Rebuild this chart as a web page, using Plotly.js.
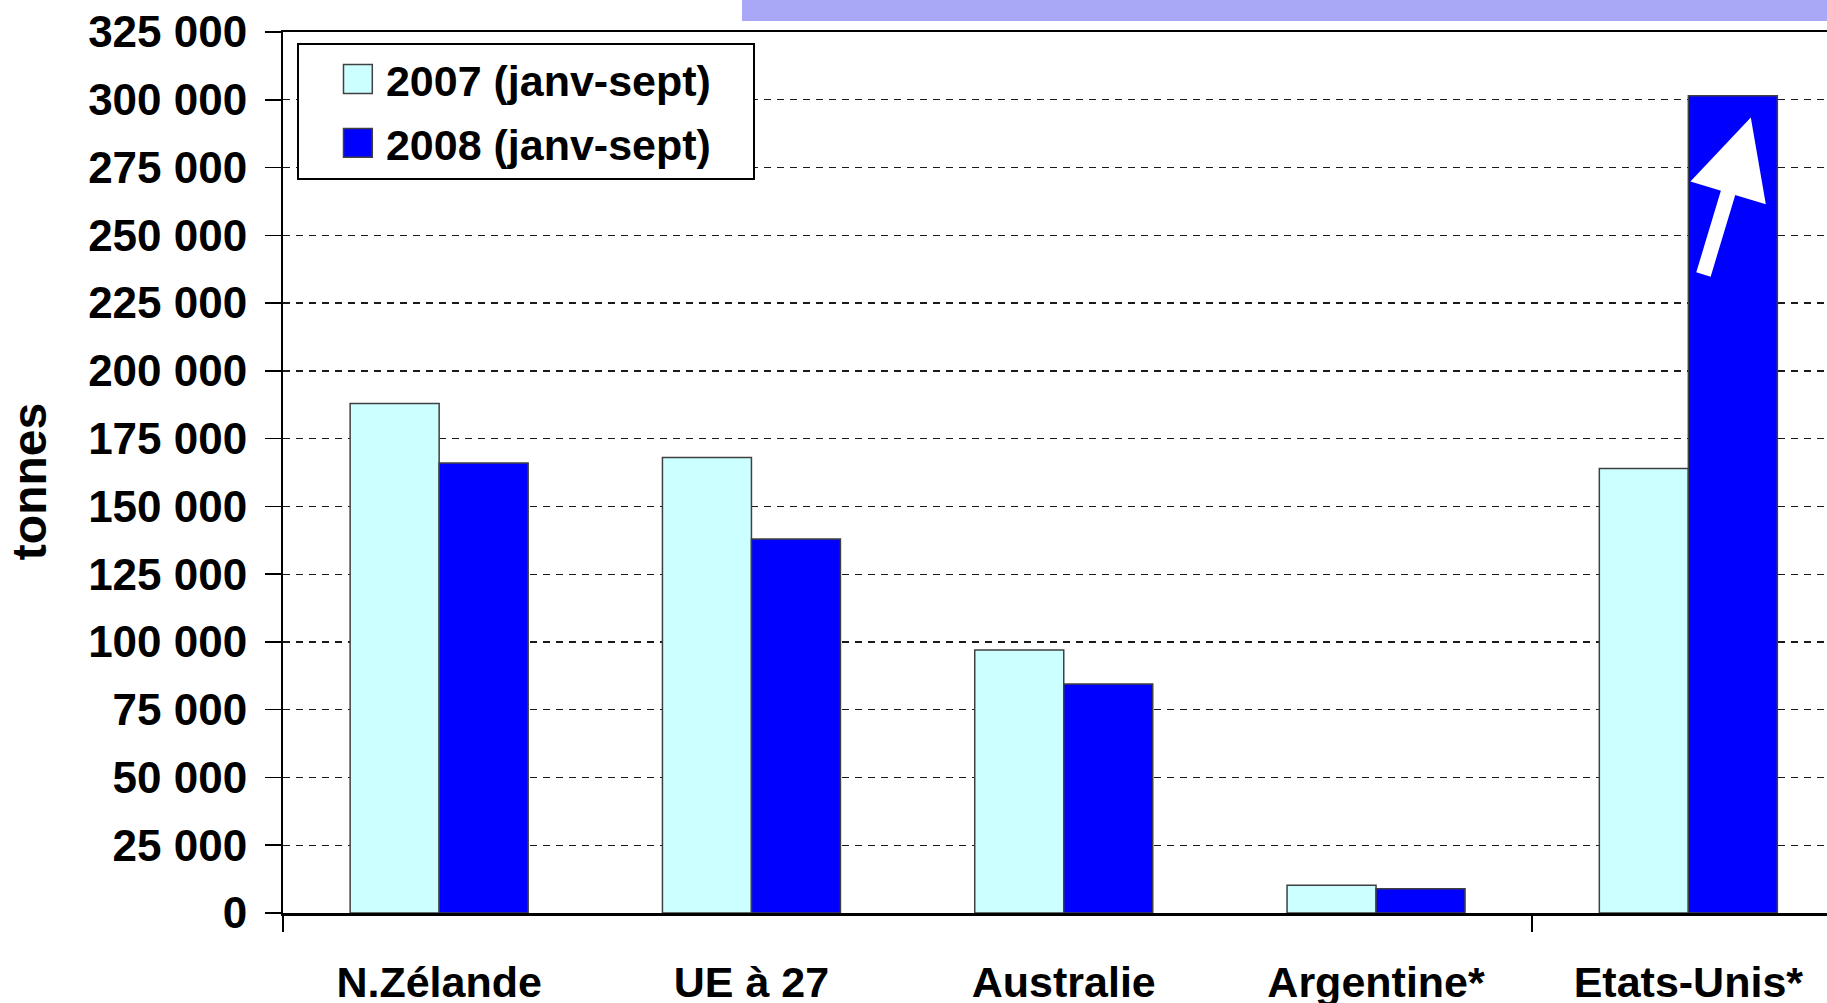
<!DOCTYPE html>
<html>
<head>
<meta charset="utf-8">
<script src="https://cdn.plot.ly/plotly-3.0.1.min.js"></script>
<style>
  html, body { margin: 0; padding: 0; background: #ffffff; }
  #chart { width: 1827px; height: 1003px; }
</style>
</head>
<body>
<div id="chart"></div>
<script>
// ---- data ----
const categories = ['N.Zélande', 'UE à 27', 'Australie', 'Argentine*', 'Etats-Unis*'];
const series2007 = [188000, 168000, 97000, 10200, 164000];
const series2008 = [166000, 138000, 84500, 8900, 301500];
const seriesNames = ['2007 (janv-sept)', '2008 (janv-sept)'];
const yTicks = [0, 25000, 50000, 75000, 100000, 125000, 150000, 175000, 200000, 225000, 250000, 275000, 300000, 325000];
const categoryIndex = categories.map((c, i) => i);

const FONT = { family: 'Liberation Sans, Arial, sans-serif', size: 43, color: '#000000', weight: 700 };
const YFONT = Object.assign({}, FONT, { size: 44 });
const outline = { color: '#404040', width: 1.5 };

const traces = [
  {
    type: 'bar', name: seriesNames[0], x: categoryIndex, y: series2007, legendgroup: 'g2007',
    marker: { color: '#CCFFFF', line: outline }
  },
  {
    type: 'bar', name: seriesNames[1], x: categoryIndex, y: series2008, legendgroup: 'g2008',
    marker: { color: '#0000FF', line: outline }
  }
];

const layout = {
  width: 1827, height: 1003,
  margin: { l: 283, r: 0, t: 32, b: 90, pad: 0 },
  paper_bgcolor: '#ffffff', plot_bgcolor: '#ffffff',
  separators: ', ',
  barmode: 'group', bargap: 0.43, bargroupgap: 0,
  font: FONT,
  showlegend: true,
  legend: {
    x: 0.009, y: 0.988, xanchor: 'left', yanchor: 'top',
    bgcolor: '#ffffff', bordercolor: '#000000', borderwidth: 2,
    font: FONT, itemwidth: 77, traceorder: 'grouped', tracegroupgap: 5
  },
  xaxis: {
    type: 'linear', range: [-0.5, 4.444],
    tickmode: 'array', tickvals: categoryIndex, ticktext: categories,
    ticks: '', showgrid: false, zeroline: false,
    showline: true, linecolor: '#000000', linewidth: 2.5, mirror: true,
    tickfont: FONT, ticklabelstandoff: 30,
    minor: { tickmode: 'array', tickvals: [-0.5, 3.5], ticks: 'outside', ticklen: 16, tickwidth: 1.5, tickcolor: '#000000', showgrid: false }
  },
  yaxis: {
    range: [0, 325000], tickmode: 'array', tickvals: yTicks, tickformat: ',d',
    ticks: 'outside', ticklen: 16, tickwidth: 1.5, tickcolor: '#000000',
    showline: true, linecolor: '#000000', linewidth: 2,
    showgrid: true, gridcolor: '#1a1a1a', gridwidth: 1.3, griddash: '7px,6px',
    zeroline: false, tickfont: YFONT, ticklabelstandoff: 9,
    title: { text: 'tonnes', font: Object.assign({}, FONT, { size: 48 }), standoff: 26 }
  },
  shapes: [
    { type: 'rect', xref: 'paper', yref: 'paper', x0: (742 - 283) / 1544, x1: 1.0, y0: (913 - 21) / 881, y1: 1.05,
      fillcolor: '#a8a8f6', line: { width: 0 }, layer: 'below' }
  ],
  annotations: [
    { xref: 'x', yref: 'y', axref: 'x', ayref: 'y', x: 4.20, y: 293500, ax: 4.047, ay: 235000,
      text: '', showarrow: true, arrowhead: 2, arrowsize: 1.05, arrowwidth: 15, arrowcolor: '#ffffff' }
  ]
};

Plotly.newPlot('chart', traces, layout, { displayModeBar: false, staticPlot: true }).then(function (gd) {
  const ytitle = gd.querySelector('.ytitle');
  if (ytitle) {
    ytitle.setAttribute('transform', 'translate(0,9) ' + (ytitle.getAttribute('transform') || ''));
  }
  const bg = gd.querySelector('.legend .bg');
  if (!bg) return;
  const bgRect = bg.getBoundingClientRect();
  const boxLeft = bgRect.left;
  // widen legend box to match the reference frame
  const w = parseFloat(bg.getAttribute('width'));
  bg.setAttribute('width', w + (754 - bgRect.right));
  // enlarge legend swatches
  gd.querySelectorAll('.legend .legendpoints path').forEach(function (p) {
    const t0 = p.getAttribute('transform') || '';
    p.style.vectorEffect = 'non-scaling-stroke';
    p.setAttribute('transform', t0 + ' scale(2.4)');
    const r = p.getBoundingClientRect();
    const cx = (r.left + r.right) / 2;
    const dx = (boxLeft + 60) - cx;
    p.setAttribute('transform', 'translate(' + dx + ',0) ' + t0 + ' scale(2.4)');
  });
});
</script>
</body>
</html>
